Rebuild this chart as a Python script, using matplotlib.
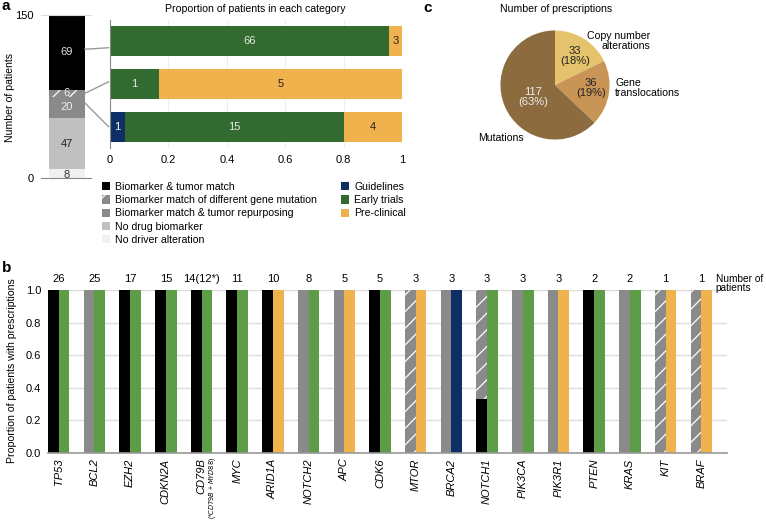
import matplotlib
matplotlib.use("Agg")
import matplotlib.pyplot as plt
from matplotlib.patches import Patch
from matplotlib.lines import Line2D
import numpy as np

plt.rcParams['font.family'] = ['Liberation Sans', 'DejaVu Sans']
plt.rcParams['hatch.linewidth'] = 0.9

# ---------------- data ----------------
# Panel a: stacked patient counts (bottom -> top)
stack_labels = ["No driver alteration", "No drug biomarker",
                "Biomarker match & tumor repurposing",
                "Biomarker match of different gene mutation",
                "Biomarker & tumor match"]
stack_values = [8, 47, 20, 6, 69]

# Panel a: evidence levels per category (top, middle, bottom rows)
row_names = ["Biomarker & tumor match", "Biomarker match of different gene mutation",
             "Biomarker match & tumor repurposing"]
guidelines = [0, 0, 1]
early_trials = [66, 1, 15]
preclinical = [3, 5, 4]

# Panel b
genes = ["TP53", "BCL2", "EZH2", "CDKN2A", "CD79B", "MYC", "ARID1A", "NOTCH2",
         "APC", "CDK6", "MTOR", "BRCA2", "NOTCH1", "PIK3CA", "PIK3R1", "PTEN",
         "KRAS", "KIT", "BRAF"]
n_patients = ["26", "25", "17", "15", "14(12*)", "11", "10", "8", "5", "5", "3",
              "3", "3", "3", "3", "2", "2", "1", "1"]
# biomarker category proportions (tumor match, different gene mutation, repurposing)
prop_match = [1, 0, 1, 1, 1, 1, 1, 0, 0, 1, 0, 0, 0.33, 0, 0, 1, 0, 0, 0]
prop_diffgene = [0, 0, 0, 0, 0, 0, 0, 0, 0, 0, 1, 0, 0.67, 0, 0, 0, 0, 1, 1]
prop_repurp = [0, 1, 0, 0, 0, 0, 0, 1, 1, 0, 0, 1, 0, 1, 1, 0, 1, 0, 0]
# evidence level proportions
ev_guidelines = [0, 0, 0, 0, 0, 0, 0, 0, 0, 0, 0, 1, 0, 0, 0, 0, 0, 0, 0]
ev_early = [1, 1, 1, 1, 1, 1, 0, 1, 0, 1, 0, 0, 1, 1, 0, 1, 1, 0, 0]
ev_preclin = [0, 0, 0, 0, 0, 0, 1, 0, 1, 0, 1, 0, 0, 0, 1, 0, 0, 1, 1]

# Panel c
pie_labels = ["Copy number\nalterations", "Gene\ntranslocations", "Mutations"]
pie_values = [33, 36, 117]
pie_pct = ["18%", "19%", "63%"]

# ---------------- styles ----------------
C_MATCH = "#000000"
C_DIFF = "#8a8a8a"
C_REPURP = "#8a8a8a"
C_NODRUG = "#c0c0c0"
C_NODRIVER = "#f0f0f0"
C_NAVY = "#0d2f66"
C_GREEN_A = "#336a30"
C_GREEN_B = "#5e9d47"
C_ORANGE = "#f0b24d"
PIE_COLS = ["#e5c36c", "#c89556", "#8c6b3f"]
FS = 7.6

W, H = 766, 524
fig = plt.figure(figsize=(W / 100, H / 100), dpi=100)


def ax_px(x0, y0, x1, y1):
    return fig.add_axes([x0 / W, 1 - y1 / H, (x1 - x0) / W, (y1 - y0) / H])


def ftext(x, y, s, **kw):
    return fig.text(x / W, 1 - y / H, s, **kw)

# ---------------- panel a: stacked bar ----------------
axs = ax_px(41, 15, 91, 178)
axs.set_xlim(0, 1)
axs.set_ylim(0, 150)
cols = [C_NODRIVER, C_NODRUG, C_REPURP, C_DIFF, C_MATCH]
hatches = [None, None, None, "//", None]
txtcol = ["#333333", "#222222", "#eeeeee", "#eeeeee", "#dddddd"]
bottom = 0
mids = []
for v, c, h, tc in zip(stack_values, cols, hatches, txtcol):
    axs.bar(0.52, v, width=0.72, bottom=bottom, color=c,
            edgecolor="white" if h else c, lw=0, hatch=h)
    mids.append(bottom + v / 2)
    axs.text(0.52, bottom + v / 2 - (1.5 if v == 8 else 0), str(v), ha="center",
             va="center", fontsize=FS + 0.4, color=tc)
    bottom += v
for s in ["left", "right"]:
    axs.spines[s].set_visible(False)
axs.spines["bottom"].set_color("#888888")
axs.spines["top"].set_color("#dddddd")
axs.set_xticks([])
axs.set_yticks([0, 150])
axs.tick_params(axis="y", length=0, labelsize=FS + 0.4, pad=5)
ftext(10, 97, "Number of patients", rotation=90, ha="center", va="center", fontsize=FS)

# ---------------- panel a: horizontal bars ----------------
axh = ax_px(110, 20, 402, 148)
ypos = np.arange(3)
g = np.array(guidelines, float)
e = np.array(early_trials, float)
p = np.array(preclinical, float)
tot = g + e + p
gp, ep, pp = g / tot, e / tot, p / tot
axh.barh(ypos, gp, height=0.7, color=C_NAVY, zorder=2)
axh.barh(ypos, ep, left=gp, height=0.7, color=C_GREEN_A, zorder=2)
axh.barh(ypos, pp, left=gp + ep, height=0.7, color=C_ORANGE, zorder=2)
for i in range(3):
    if g[i] > 0:
        axh.text(gp[i] / 2, i, str(int(g[i])), ha="center", va="center", color="white", fontsize=FS + 0.4)
    if e[i] > 0:
        axh.text(gp[i] + ep[i] / 2, i, str(int(e[i])), ha="center", va="center", color="#e8e8e8", fontsize=FS + 0.4)
    if p[i] > 0:
        axh.text(gp[i] + ep[i] + pp[i] / 2, i, str(int(p[i])), ha="center", va="center", color="#222222", fontsize=FS + 0.4)
axh.set_xlim(0, 1)
axh.set_ylim(2.5, -0.5)
axh.set_yticks([])
axh.set_xticks([0, 0.2, 0.4, 0.6, 0.8, 1.0])
axh.set_xticklabels(["0", "0.2", "0.4", "0.6", "0.8", "1"])
axh.tick_params(axis="x", length=0, labelsize=FS + 0.4, pad=5)
axh.grid(axis="x", color="#eeeeee", lw=0.8, zorder=0)
for s in ["top", "right", "bottom"]:
    axh.spines[s].set_visible(False)
axh.spines["left"].set_color("#888888")
ftext(255, 9, "Proportion of patients in each category", ha="center", va="center", fontsize=FS)

# connectors (computed in display space, then drawn in figure coords)
inv = fig.transFigure.inverted()
targets = [ypos[0] + 0.15, ypos[1] - 0.05, ypos[2] + 0.0]
src = [mids[4] + 3, mids[3], mids[2] + 4]
for k in range(3):
    pa = inv.transform(axs.transData.transform((0.88, src[k])))
    pb = inv.transform(axh.transData.transform((-0.005, targets[k])))
    fig.add_artist(Line2D([pa[0], pb[0]], [pa[1], pb[1]], transform=fig.transFigure,
                          color="#999999", lw=1))

# legends
h_left = [Patch(facecolor=C_MATCH), Patch(facecolor=C_DIFF, hatch="//", edgecolor="white", lw=0),
          Patch(facecolor=C_REPURP), Patch(facecolor=C_NODRUG), Patch(facecolor=C_NODRIVER)]
l_left = ["Biomarker & tumor match", "Biomarker match of different gene mutation",
          "Biomarker match & tumor repurposing", "No drug biomarker", "No driver alteration"]
leg_kw = dict(loc="upper left", frameon=False, fontsize=FS, handlelength=0.8, handleheight=0.8,
              handletextpad=0.45, labelspacing=0.3, borderaxespad=0, borderpad=0)
fig.legend(h_left, l_left, bbox_to_anchor=(102 / W, 1 - 182 / H), **leg_kw)
h_right = [Patch(facecolor=C_NAVY), Patch(facecolor=C_GREEN_A), Patch(facecolor=C_ORANGE)]
l_right = ["Guidelines", "Early trials", "Pre-clinical"]
fig.legend(h_right, l_right, bbox_to_anchor=(341 / W, 1 - 182 / H), **leg_kw)

# ---------------- panel b ----------------
axb = ax_px(48, 290, 727, 453)
x = np.arange(len(genes))
bw = 0.3
pm = np.array(prop_match)
pdg = np.array(prop_diffgene)
pr = np.array(prop_repurp)
axb.bar(x - bw / 2, pm, width=bw, color=C_MATCH, zorder=2, lw=0)
axb.bar(x - bw / 2, pdg, bottom=pm, width=bw, color=C_DIFF, hatch="//", edgecolor="white", lw=0, zorder=2)
axb.bar(x - bw / 2, pr, bottom=pm + pdg, width=bw, color=C_REPURP, zorder=2, lw=0)
eg = np.array(ev_guidelines)
ee = np.array(ev_early)
ep2 = np.array(ev_preclin)
axb.bar(x + bw / 2, eg, width=bw, color=C_NAVY, zorder=2, lw=0)
axb.bar(x + bw / 2, ee, bottom=eg, width=bw, color=C_GREEN_B, zorder=2, lw=0)
axb.bar(x + bw / 2, ep2, bottom=eg + ee, width=bw, color=C_ORANGE, zorder=2, lw=0)
axb.set_xlim(-0.3, len(genes) - 0.28)
axb.set_ylim(0, 1)
axb.set_yticks([0, 0.2, 0.4, 0.6, 0.8, 1.0])
axb.set_yticklabels(["0.0", "0.2", "0.4", "0.6", "0.8", "1.0"])
axb.tick_params(axis="y", length=0, labelsize=FS + 0.4, pad=5)
axb.set_xticks(x)
axb.set_xticklabels(genes, rotation=90, style="italic", fontsize=FS + 0.4)
axb.tick_params(axis="x", length=0, pad=4)
axb.grid(axis="y", color="#dddddd", lw=1, zorder=0)
for s in ["top", "right", "left"]:
    axb.spines[s].set_visible(False)
axb.spines["bottom"].set_color("#999999")
axb.spines["bottom"].set_linewidth(1.2)
for i, n in enumerate(n_patients):
    axb.text(x[i], 1.067, n, ha="center", va="center", fontsize=FS + 0.4, clip_on=False)
axb.text(len(genes) - 0.6, 1.10, "Number of\npatients", ha="left", va="top",
         fontsize=FS - 0.3, linespacing=0.95, clip_on=False)
# CD79B sub-label
ci = genes.index("CD79B")
axb.text(ci + 0.3, -0.025, "(*$\\it{CD79B}$ + $\\it{MYD88}$)", rotation=90, ha="center", va="top",
         fontsize=4.8, clip_on=False)
ftext(12, 371, "Proportion of patients with prescriptions", rotation=90, ha="center",
      va="center", fontsize=FS)

# ---------------- panel c ----------------
axp = ax_px(495, 25, 615, 145)
axp.pie(pie_values, colors=PIE_COLS, startangle=90, counterclock=False, radius=1,
        wedgeprops=dict(lw=0))
axp.set_xlim(-1.1, 1.1)
axp.set_ylim(-1.1, 1.1)
axp.set_aspect("equal")
axp.text(0.37, 0.53, f"{pie_values[0]}\n({pie_pct[0]})", ha="center", va="center",
         fontsize=FS + 0.4, color="#222222", linespacing=1.0)
axp.text(0.66, -0.06, f"{pie_values[1]}\n({pie_pct[1]})", ha="center", va="center",
         fontsize=FS + 0.4, color="#222222", linespacing=1.0)
axp.text(-0.40, -0.22, f"{pie_values[2]}\n({pie_pct[2]})", ha="center", va="center",
         fontsize=FS + 0.4, color="#eeeeee", linespacing=1.0)
axp.text(1.74, 0.81, pie_labels[0], ha="right", va="center", fontsize=FS, linespacing=1.0,
         multialignment="right")
axp.text(1.10, -0.06, pie_labels[1], ha="left", va="center", fontsize=FS, linespacing=1.0)
axp.text(-1.41, -0.97, pie_labels[2], ha="left", va="center", fontsize=FS)
ftext(500, 9, "Number of prescriptions", ha="left", va="center", fontsize=FS)

# panel letters
ftext(2, 6, "a", fontsize=11, fontweight="bold", ha="left", va="center")
ftext(2, 268, "b", fontsize=11, fontweight="bold", ha="left", va="center")
ftext(423, 8, "c", fontsize=11, fontweight="bold", ha="left", va="center")

fig.savefig("out.png", dpi=100)
